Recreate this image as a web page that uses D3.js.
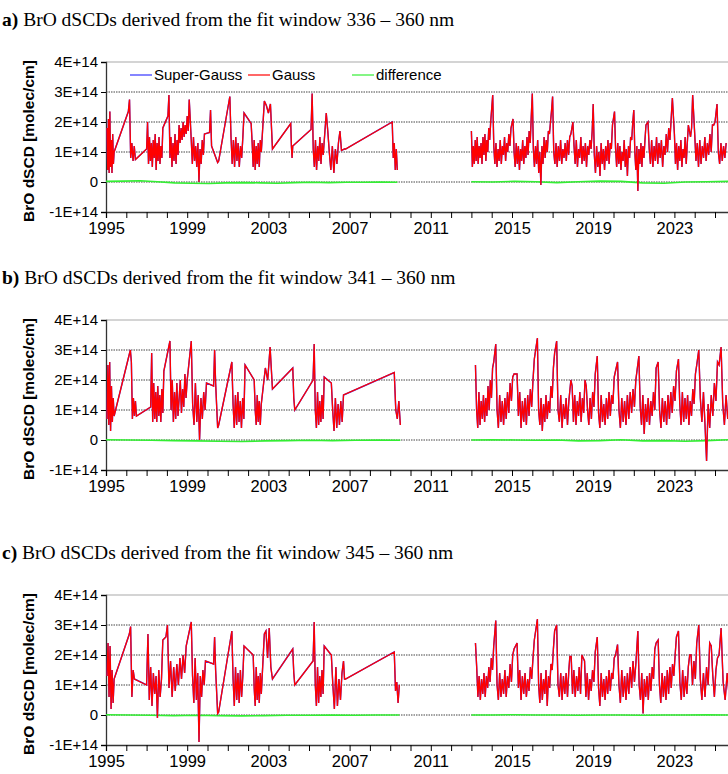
<!DOCTYPE html>
<html>
<head>
<meta charset="utf-8">
<script src="https://cdn.jsdelivr.net/npm/d3@7"></script>
<style>
  body { margin: 0; background: #fff; }
  svg { display: block; }
</style>
</head>
<body>
<div class="chart"></div>
<script>
// ---- data (values in units of 1E+14 molec/cm) ----
// each segment: [tStart, tEnd, values spread evenly over the span]
const titles = [
    ['a)', ' BrO dSCDs derived from the fit window 336 \u2013 360 nm'],
    ['b)', ' BrO dSCDs derived from the fit window 341 \u2013 360 nm'],
    ['c)', ' BrO dSCDs derived from the fit window 345 \u2013 360 nm'],
];
const yTicks = [-1, 0, 1, 2, 3, 4];
const yTickLabels = ['-1E+14', '0', '1E+14', '2E+14', '3E+14', '4E+14'];
const xLabelYears = [1995, 1999, 2003, 2007, 2011, 2015, 2019, 2023];
const legendNames = ['Super-Gauss', 'Gauss', 'difference'];

const aEarly = [
    [1995.05, 1995.4, [1.8,0.4,2.1,0.3,2.35,0.5,1.4,0.3,1.6,0.6,1.0]],
    [1996.1, 1996.45, [2.35,2.75,0.8,1.3,0.7,1.2,0.75]],
    [1997.0, 1997.8, [1.1,2.0,0.6,1.5,0.7,1.3,0.5,1.4,0.8,1.6,0.4,1.3,0.7,1.5,0.6,1.2,0.8,1.8]],
    [1998.05, 1998.6, [2.2,2.9,0.8,1.5,0.5,1.3,0.7,1.6,0.6,1.4,0.9,1.9]],
    [1998.65, 1999.1, [1.3,1.8,1.4,2.0,1.5,1.9,1.6,2.2,1.7,2.75]],
    [1999.2, 1999.85, [1.4,0.6,1.5,0.7,1.2,0.5,1.3,0.0,1.1,0.6,1.4,0.9,1.6]],
    [2000.1, 2000.2, [1.65,2.4,1.2]],
    [2000.5, 2000.55, [0.65,0.7]],
    [2001.1, 2001.8, [2.85,1.5,0.6,1.4,0.5,1.5,0.7,1.3,0.5,1.2,0.8,1.5,2.3]],
    [2002.15, 2002.65, [1.95,1.3,0.5,1.4,0.4,1.2,0.6,1.3,0.5,1.4,1.0]],
    [2002.8, 2003.2, [2.7,2.55,2.3,2.6,1.1]],
    [2004.1, 2004.2, [1.95,1.2,0.8,1.2]],
    [2005.1, 2005.7, [1.75,2.95,1.1,0.5,1.4,0.4,1.2,0.7,1.5,0.6,1.3,0.9]],
    [2005.85, 2006.6, [2.3,1.7,1.0,0.4,1.2,0.3,1.1,0.6,1.3,1.7,1.05]],
    [2006.75, 2006.8, [1.1,1.1]],
    [2009.1, 2009.35, [2.0,0.8,1.3,0.4,1.1,0.4]],
];
const aLate = [
    [2013.0, 2013.95, [1.7,0.5,1.2,0.6,1.4,0.7,1.5,0.6,1.2,0.8,1.3,0.6,1.5,0.9,1.6,0.7,1.4,1.0,1.8,1.4,2.0]],
    [2014.05, 2014.95, [2.9,1.2,0.6,1.3,0.5,1.1,0.7,1.4,0.6,1.2,0.9,1.5,0.7,1.3,1.0,1.6,1.2,1.8]],
    [2015.05, 2015.95, [2.1,1.0,0.5,1.3,0.6,1.2,0.4,1.1,0.7,1.4,0.6,1.2,0.8,1.5,0.9,1.7,1.3,2.2]],
    [2016.0, 2016.95, [2.95,1.1,0.5,1.2,0.6,1.4,0.3,1.0,-0.1,1.2,0.6,1.5,0.8,1.4,1.0,1.7,1.6,2.0,2.4]],
    [2017.0, 2017.9, [2.85,1.0,0.6,1.3,0.5,1.2,0.7,1.4,0.6,1.1,0.8,1.3,0.7,1.4,0.9,1.5,1.6]],
    [2018.0, 2018.95, [2.0,1.2,0.6,1.4,0.5,1.1,0.8,1.5,0.6,1.2,0.7,1.3,0.5,1.2,0.9,1.4,1.1,1.7]],
    [2019.0, 2019.95, [2.6,0.9,0.3,1.2,0.5,1.0,0.2,1.3,0.6,1.1,0.4,1.2,0.7,1.4,0.6,1.3,1.1,1.9]],
    [2020.05, 2020.95, [2.35,1.1,0.5,1.3,0.6,1.2,0.4,1.0,0.7,1.4,0.5,1.1,0.2,1.2,0.8,1.5,1.4,2.0]],
    [2021.0, 2021.6, [2.4,1.0,0.4,1.2,-0.3,1.1,0.6,1.3,0.5,1.2,0.8,1.4,1.9]],
    [2021.7, 2022.9, [2.0,1.1,0.6,1.4,0.5,1.2,0.7,1.5,0.6,1.3,0.8,1.4,0.5,1.2,0.9,1.6,1.0,1.8,1.4,2.1,2.8]],
    [2023.0, 2023.9, [1.6,0.6,1.3,0.4,1.2,0.7,1.4,0.5,1.1,0.8,1.5,0.6,1.3,1.9,1.7,1.5,1.8,2.9]],
    [2024.0, 2025.0, [1.6,0.7,1.3,0.5,1.4,0.6,1.2,0.8,1.5,0.7,1.3,0.9,1.6,1.0,1.9,1.9,2.0]],
    [2025.1, 2025.55, [2.6,1.0,0.6,1.3,0.7,1.2,0.8,1.3]],
];
const aDiffEarly = [[1995.0, 2009.35, [0.02,0.03,0.04,0.01,-0.03,-0.04,-0.05,-0.03,-0.02,-0.03,-0.04,-0.02,-0.01,-0.02,-0.01,-0.01,0.0,-0.01]]];
const aDiffLate = [[2013.0, 2026.7, [0.01,0.0,0.02,0.01,-0.02,0.01,0.03,0.02,-0.03,-0.04,0.0,0.01,0.02,0.03]]];

const bEarly = [
    [1995.05, 1995.4, [0.7,2.5,0.5,2.6,0.3,1.8,0.6,1.4,0.8]],
    [1996.2, 1996.5, [3.0,2.6,0.7,1.4,0.8,1.3,0.8]],
    [1997.2, 1997.85, [1.1,2.9,0.6,1.9,0.7,1.6,0.6,1.8,0.8,1.5,0.6,1.7,0.9,2.3]],
    [1998.15, 1999.0, [3.3,1.0,2.0,0.6,1.6,0.7,1.9,0.8,1.4,2.0,0.9,1.7,1.1,2.2,1.4,2.0]],
    [1999.2, 1999.95, [3.3,1.2,0.5,1.9,0.6,1.5,0.0,1.4,0.7,1.6,1.0,1.9]],
    [2000.3, 2000.4, [1.8,3.0,1.9]],
    [2000.5, 2000.55, [0.4,0.5]],
    [2001.2, 2001.85, [2.6,1.2,0.4,1.5,0.5,1.6,0.6,1.3,0.4,1.4,0.7,2.5]],
    [2002.3, 2002.65, [2.0,1.0,0.5,1.5,0.6,1.3,0.5,1.2]],
    [2002.85, 2003.2, [2.4,2.0,3.1,1.7]],
    [2004.2, 2004.3, [2.4,1.4,1.0]],
    [2005.2, 2005.75, [2.0,3.2,1.0,0.4,1.6,0.5,1.3,0.6,1.5,0.7,2.1]],
    [2006.1, 2006.7, [1.9,1.0,0.3,1.4,0.4,1.2,0.5,1.3,0.6,1.5]],
    [2009.2, 2009.5, [2.25,1.0,0.7,1.3,0.5]],
];
const bLate = [
    [2013.2, 2014.1, [2.5,1.0,0.4,1.6,0.5,1.3,0.7,1.5,0.6,1.4,0.8,1.8,1.0,2.0,1.4,2.4,2.6]],
    [2014.2, 2015.1, [3.2,1.0,0.4,1.5,0.6,1.3,0.5,1.4,0.7,1.6,0.9,1.9,1.3,2.1,2.2]],
    [2015.25, 2016.1, [2.2,0.8,1.6,0.4,1.3,0.6,1.4,0.5,1.5,0.8,1.7,1.1,2.0,2.7]],
    [2016.25, 2017.1, [3.4,1.0,0.5,1.4,0.3,1.2,0.6,1.5,0.7,1.3,0.9,1.8,1.4,2.4,2.9]],
    [2017.2, 2017.8, [3.3,1.0,0.6,1.5,0.4,1.2,0.7,1.4,0.5,1.3]],
    [2017.9, 2019.1, [2.0,1.8,0.6,1.5,0.5,1.3,0.8,1.6,0.6,1.4,0.9,2.0,1.8,1.0,0.5,1.4,0.7,1.6,1.1,2.2]],
    [2019.2, 2020.1, [2.8,0.9,0.4,1.5,0.6,1.2,0.5,1.4,0.7,1.6,0.8,1.5,1.2,2.1,2.3]],
    [2020.2, 2021.1, [2.6,1.0,0.4,1.4,0.6,1.3,0.5,1.5,0.7,1.6,0.9,1.7,1.1,2.0]],
    [2021.25, 2022.1, [2.8,1.1,0.5,1.5,0.2,1.2,0.6,1.4,0.5,1.3,0.8,1.6,1.0,2.4]],
    [2022.2, 2023.1, [2.6,1.0,0.4,1.4,0.6,1.3,0.5,1.5,0.7,1.6,0.9,1.8,1.3,2.3]],
    [2023.2, 2024.1, [2.7,1.2,0.5,1.6,0.6,1.4,0.7,1.5,0.5,1.3,0.8,1.7,1.2,2.2,2.5]],
    [2024.2, 2025.2, [3.0,1.4,0.6,1.6,0.5,-0.7,1.2,0.4,1.5,0.8,1.9,1.3,2.6,2.5]],
    [2025.3, 2026.2, [3.1,1.2,0.5,1.5,0.7,1.3,0.6,1.4,0.8,1.6,1.0,2.0]],
];
const bDiffEarly = [[1995.0, 2009.5, [0.01,0.0,-0.01,-0.02,-0.03,-0.04,-0.05,-0.03,-0.02,-0.01,-0.02,-0.01,0.0,-0.01]]];
const bDiffLate = [[2013.0, 2026.7, [0.0,0.01,0.0,-0.01,0.0,-0.03,-0.02,0.01,-0.03,-0.02,-0.04,-0.02,0.01,0.0]]];

const cEarly = [
    [1995.05, 1995.4, [1.3,2.4,0.6,2.3,0.2,1.5,0.4,1.2]],
    [1996.15, 1996.4, [2.7,2.95,0.6,1.5,1.2]],
    [1997.0, 1997.8, [1.0,2.7,0.5,1.6,0.3,1.4,0.7,1.3,-0.1,1.5,0.6,1.2,2.5]],
    [1997.95, 1998.95, [2.6,3.0,0.9,1.8,0.6,1.6,0.8,1.7,1.0,1.9,1.2,2.0,1.4,2.3]],
    [1999.2, 1999.9, [3.1,1.3,0.4,1.9,0.5,1.4,-0.9,1.3,0.6,1.5,1.0,1.8]],
    [2000.3, 2000.4, [1.7,2.6,1.5]],
    [2000.5, 2000.55, [0.05,0.1]],
    [2001.2, 2001.8, [2.8,1.2,0.3,1.6,0.5,1.4,0.4,1.5,0.6,1.3,2.3]],
    [2002.25, 2002.65, [2.0,0.9,0.3,1.6,0.5,1.3,0.4,1.4,0.7]],
    [2002.8, 2003.2, [2.7,2.8,1.9,2.9,1.6,1.2]],
    [2004.2, 2004.3, [2.2,1.4,1.0]],
    [2005.2, 2005.75, [1.8,3.1,1.0,0.3,1.6,0.4,1.3,0.6,1.5,0.7,2.3]],
    [2006.1, 2006.7, [2.0,1.0,0.2,1.6,0.3,1.2,0.5,1.4,1.8]],
    [2006.75, 2006.8, [1.2,1.2]],
    [2009.2, 2009.45, [2.1,0.8,1.1,0.4,1.0]],
];
const cLate = [
    [2013.2, 2014.1, [2.4,1.6,0.6,1.3,0.5,1.2,0.7,1.4,0.6,1.3,0.9,1.6,1.1,1.9,1.5,2.3]],
    [2014.2, 2015.1, [3.15,1.0,0.5,1.4,0.6,1.2,0.7,1.5,0.6,1.3,0.9,1.7,1.1,2.0,2.2]],
    [2015.25, 2016.1, [2.4,0.9,1.5,0.5,1.3,0.7,1.4,0.6,1.2,0.8,1.6,1.2,1.9,2.5]],
    [2016.25, 2017.1, [3.2,1.0,0.4,1.4,0.5,1.2,0.7,1.5,0.3,1.3,0.9,1.7,1.5,2.2,2.8]],
    [2017.2, 2017.8, [3.0,1.0,0.6,1.4,0.5,1.3,0.7,1.4,0.6,1.5]],
    [2017.85, 2019.1, [1.95,1.95,0.7,1.5,0.6,1.3,0.8,1.6,0.7,2.0,1.9,1.8,0.6,1.4,0.5,1.2,0.8,1.5,1.1,2.1]],
    [2019.2, 2020.1, [2.6,0.9,0.3,1.4,0.6,1.2,0.5,1.3,0.7,1.5,0.8,1.4,1.2,1.9,2.0]],
    [2020.2, 2021.1, [2.35,1.0,0.4,1.5,0.6,1.3,0.5,1.4,0.7,1.6,0.9,1.8,1.1,1.7]],
    [2021.2, 2022.1, [2.8,1.0,0.5,1.4,0.05,1.2,0.6,1.3,0.5,1.4,0.8,1.6,1.2,2.2,2.4]],
    [2022.2, 2023.1, [2.5,1.0,0.4,1.4,0.6,1.3,0.5,1.5,0.7,1.6,0.9,1.7,1.3,2.0,2.6]],
    [2023.2, 2024.1, [2.8,1.1,0.5,1.5,0.6,1.3,0.7,1.6,2.0,2.0,1.0,1.8,1.2,2.4]],
    [2024.2, 2025.2, [3.0,1.2,0.5,1.4,0.6,1.6,1.0,2.4,2.3,1.3,0.6,1.5,1.9,2.0]],
    [2025.3, 2026.2, [2.9,1.1,0.5,1.4,0.6,1.3,0.7,1.5,0.9,1.7]],
];
const cDiffEarly = [[1995.0, 2009.45, [0.01,0.0,-0.01,-0.02,-0.01,-0.02,-0.03,-0.02,-0.01,-0.01,0.0,-0.01,0.0,0.0]]];
const cDiffLate = [[2013.0, 2026.7, [0.0,0.0,0.01,0.0,0.0,-0.01,0.0,0.0,-0.01,0.0,0.0,0.01,0.0,0.0]]];

const panels = [
    { early: aEarly, late: aLate, diffEarly: aDiffEarly, diffLate: aDiffLate, top: 62 },
    { early: bEarly, late: bLate, diffEarly: bDiffEarly, diffLate: bDiffLate, top: 320 },
    { early: cEarly, late: cLate, diffEarly: cDiffEarly, diffLate: cDiffLate, top: 595 },
];

// ---- layout ----
const svgSize = { width: 728, height: 774 };
const plotLeft = 106;
const plotH = 150;

const svg = d3.select('.chart')
    .append('svg')
    .attr('width', svgSize.width)
    .attr('height', svgSize.height)
    .style('font-family', 'Liberation Sans, Arial, sans-serif')
;

const xScale = d3.scaleLinear()
    .domain([1995, 2027])
    .range([plotLeft, plotLeft + 32 * 20.3])
;

// flatten [t0, t1, values] segments into points
const toPoints = (segs) => {
    const pts = [];
    segs.forEach(([t0, t1, vals]) => {
        const n = vals.length;
        vals.forEach((v, i) => pts.push({ t: n > 1 ? t0 + (t1 - t0) * i / (n - 1) : t0, v }));
    });
    return pts;
};

panels.forEach((p, idx) => {
    const yScale = d3.scaleLinear().domain([-1, 4]).range([p.top + plotH, p.top]);
    const g = svg.append('g');

    // title
    const title = g.append('text')
        .attr('x', 2)
        .attr('y', p.top - 36)
        .style('font-family', 'Liberation Serif, Times New Roman, serif')
        .style('font-size', '19.5px');
    title.append('tspan').attr('font-weight', 'bold').text(titles[idx][0]);
    title.append('tspan').text(titles[idx][1]);

    // top border
    g.append('line')
        .attr('x1', plotLeft).attr('x2', svgSize.width)
        .attr('y1', p.top).attr('y2', p.top)
        .attr('stroke', '#aaa').attr('stroke-width', 1.2);

    // dotted grid
    g.selectAll('.grid').data([0, 1, 2, 3]).enter()
        .append('line')
        .attr('x1', plotLeft).attr('x2', svgSize.width)
        .attr('y1', d => yScale(d)).attr('y2', d => yScale(d))
        .attr('stroke', '#444').attr('stroke-width', 1)
        .attr('stroke-dasharray', '1.5,1');

    // y axis
    const yAxis = d3.axisLeft(yScale).tickValues(yTicks)
        .tickFormat((d, i) => yTickLabels[i]).tickSize(5).tickPadding(3);
    const ya = g.append('g').attr('transform', `translate(${plotLeft},0)`).call(yAxis);
    ya.select('.domain').attr('stroke', '#333').attr('stroke-width', 1.3);
    ya.selectAll('text').style('font-size', '15px').attr('fill', '#000');

    // x axis
    const xAxis = d3.axisBottom(xScale).tickValues(d3.range(1995, 2028))
        .tickFormat(d => xLabelYears.includes(d) ? d : '').tickSize(6).tickPadding(4);
    const xa = g.append('g').attr('transform', `translate(0,${yScale(-1)})`).call(xAxis);
    xa.select('.domain').attr('stroke', '#333').attr('stroke-width', 1.3);
    xa.selectAll('text').style('font-size', '16.5px').attr('fill', '#000');

    // y title
    g.append('text')
        .attr('transform', `translate(34,${p.top + plotH / 2 + 4}) rotate(-90)`)
        .attr('text-anchor', 'middle')
        .style('font-size', '15.5px').style('font-weight', 'bold')
        .text('BrO dSCD [molec/cm]');

    const clipId = `clip${idx}`;
    svg.append('clipPath').attr('id', clipId)
        .append('rect').attr('x', plotLeft).attr('y', p.top - 10)
        .attr('width', svgSize.width).attr('height', plotH + 20);

    const line = d3.line().x(d => xScale(d.t)).y(d => yScale(d.v));
    const series = g.append('g').attr('clip-path', `url(#${clipId})`);

    [p.diffEarly, p.diffLate].forEach(s => series.append('path')
        .attr('d', line(toPoints(s)))
        .attr('fill', 'none').attr('stroke', '#33ee33').attr('stroke-width', 1.6));
    [p.early, p.late].forEach(s => {
        const pts = toPoints(s);
        series.append('path').attr('d', line(pts))
            .attr('fill', 'none').attr('stroke', '#3333ff').attr('stroke-width', 1.4);
        series.append('path').attr('d', line(pts))
            .attr('fill', 'none').attr('stroke', '#ff0000').attr('stroke-width', 1.3);
    });

    // legend (first panel only)
    if (idx === 0) {
        const lx = [130, 248, 352];
        const lc = ['#3333ff', '#ff0000', '#33ee33'];
        legendNames.forEach((name, i) => {
            g.append('line')
                .attr('x1', lx[i]).attr('x2', lx[i] + 22)
                .attr('y1', p.top + 13).attr('y2', p.top + 13)
                .attr('stroke', lc[i]).attr('stroke-width', 1.2);
            g.append('text')
                .attr('x', lx[i] + 24).attr('y', p.top + 18)
                .style('font-size', '15px')
                .text(name);
        });
    }
});
</script>
</body>
</html>
